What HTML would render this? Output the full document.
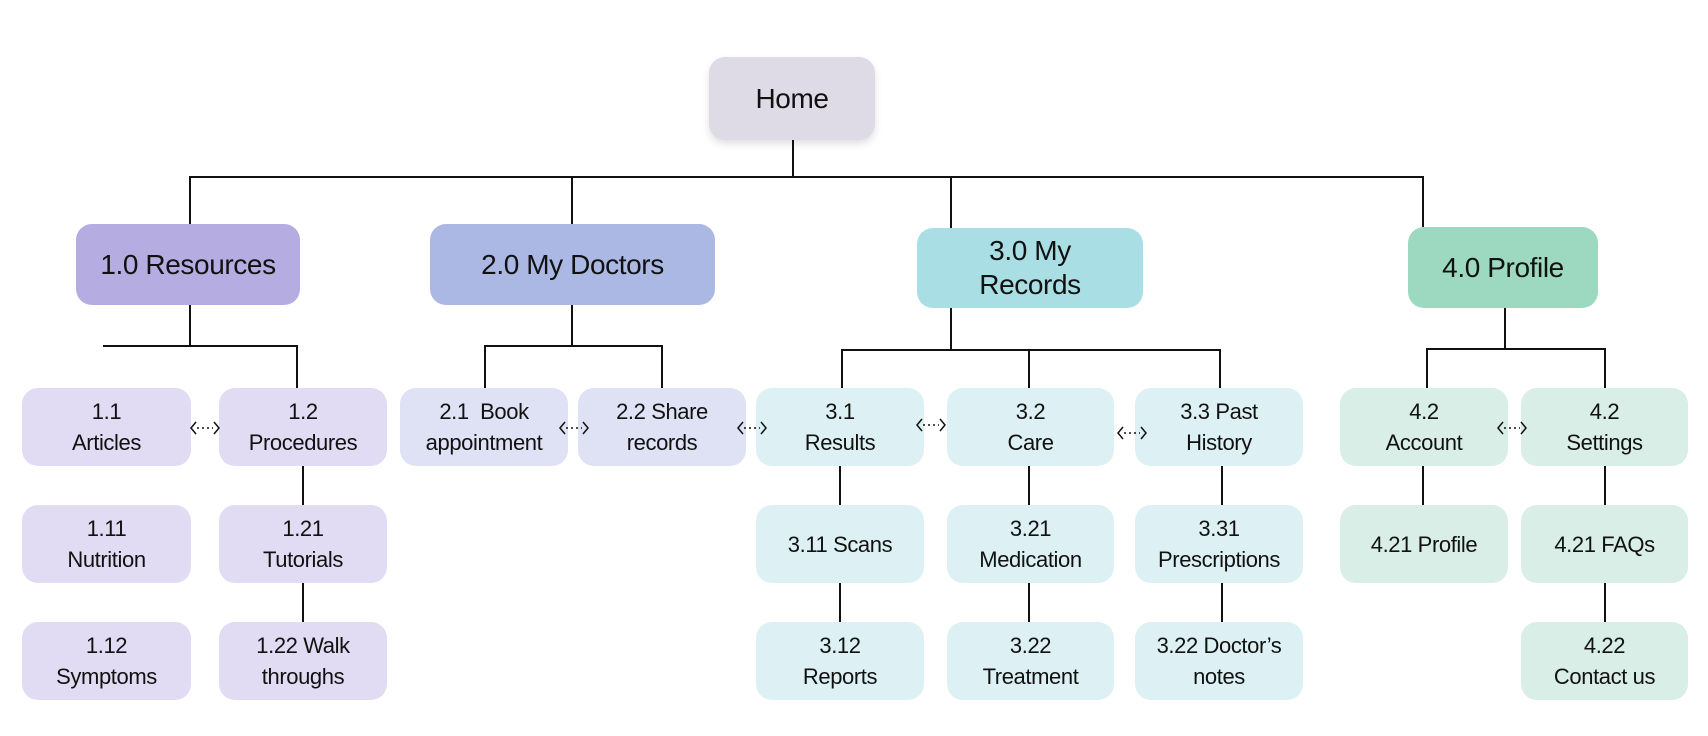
<!DOCTYPE html>
<html><head><meta charset="utf-8"><style>
body{margin:0;width:1708px;height:736px;background:#fff;position:relative;overflow:hidden;font-family:"Liberation Sans",sans-serif;}
.b{position:absolute;display:flex;align-items:center;justify-content:center;text-align:center;border-radius:16px;color:#111;font-size:22px;line-height:31px;letter-spacing:-0.4px}
.t{font-size:28px;line-height:34px}
svg{position:absolute;left:0;top:0}
</style></head><body>
<svg width="1708" height="736">
<g stroke="#111" stroke-width="2" fill="none">
<path d="M793 140V177M190 177H1423M190 176V224M572 176V224M951 176V228M1423 176V227"/>
<path d="M190 305V346M103 346H297V388"/>
<path d="M572 305V346M485 388V346H662V388"/>
<path d="M951 308V350M842 388V350H1220V388M1029 350V388"/>
<path d="M1505 308V349M1427 388V349H1605V388"/>
<path d="M303 466V505M303 583V622M840 466V505M840 583V622M1029 466V505M1029 583V622M1222 466V505M1222 583V622M1423 466V505M1605 466V505M1605 583V622"/>
</g>
</svg>
<div class="b t" style="left:709px;top:57px;width:166px;height:83px;background:#dedbe6;box-shadow:0 4px 8px rgba(0,0,0,0.12)">Home</div>
<div class="b t" style="left:76px;top:224px;width:224px;height:81px;background:#b5ace1">1.0 Resources</div>
<div class="b t" style="left:430px;top:224px;width:285px;height:81px;background:#abb8e3">2.0 My Doctors</div>
<div class="b t" style="left:917px;top:228px;width:226px;height:80px;background:#a9dfe4">3.0 My<br>Records</div>
<div class="b t" style="left:1408px;top:227px;width:190px;height:81px;background:#9dd9c1">4.0 Profile</div>

<div class="b" style="left:22px;top:388px;width:169px;height:78px;background:#e1dcf3">1.1<br>Articles</div>
<div class="b" style="left:219px;top:388px;width:168px;height:78px;background:#e1dcf3">1.2<br>Procedures</div>
<div class="b" style="left:22px;top:505px;width:169px;height:78px;background:#e1dcf3">1.11<br>Nutrition</div>
<div class="b" style="left:219px;top:505px;width:168px;height:78px;background:#e1dcf3">1.21<br>Tutorials</div>
<div class="b" style="left:22px;top:622px;width:169px;height:78px;background:#e1dcf3">1.12<br>Symptoms</div>
<div class="b" style="left:219px;top:622px;width:168px;height:78px;background:#e1dcf3">1.22 Walk<br>throughs</div>

<div class="b" style="left:400px;top:388px;width:168px;height:78px;background:#dfe1f4">2.1&nbsp; Book<br>appointment</div>
<div class="b" style="left:578px;top:388px;width:168px;height:78px;background:#dfe1f4">2.2 Share<br>records</div>

<div class="b" style="left:756px;top:388px;width:168px;height:78px;background:#ddf1f4">3.1<br>Results</div>
<div class="b" style="left:947px;top:388px;width:167px;height:78px;background:#ddf1f4">3.2<br>Care</div>
<div class="b" style="left:1135px;top:388px;width:168px;height:78px;background:#ddf1f4">3.3 Past<br>History</div>
<div class="b" style="left:756px;top:505px;width:168px;height:78px;background:#ddf1f4">3.11 Scans</div>
<div class="b" style="left:947px;top:505px;width:167px;height:78px;background:#ddf1f4">3.21<br>Medication</div>
<div class="b" style="left:1135px;top:505px;width:168px;height:78px;background:#ddf1f4">3.31<br>Prescriptions</div>
<div class="b" style="left:756px;top:622px;width:168px;height:78px;background:#ddf1f4">3.12<br>Reports</div>
<div class="b" style="left:947px;top:622px;width:167px;height:78px;background:#ddf1f4">3.22<br>Treatment</div>
<div class="b" style="left:1135px;top:622px;width:168px;height:78px;background:#ddf1f4">3.22 Doctor’s<br>notes</div>

<div class="b" style="left:1340px;top:388px;width:168px;height:78px;background:#d9eee6">4.2<br>Account</div>
<div class="b" style="left:1521px;top:388px;width:167px;height:78px;background:#d9eee6">4.2<br>Settings</div>
<div class="b" style="left:1340px;top:505px;width:168px;height:78px;background:#d9eee6">4.21 Profile</div>
<div class="b" style="left:1521px;top:505px;width:167px;height:78px;background:#d9eee6">4.21 FAQs</div>
<div class="b" style="left:1521px;top:622px;width:167px;height:78px;background:#d9eee6">4.22<br>Contact us</div>

<svg width="1708" height="736" style="z-index:5">
<g stroke="#111" stroke-width="1.5" fill="none">
<g transform="translate(205,428)"><path d="M-9 -6L-14 0L-9 6M9 -6L14 0L9 6"/><path d="M-8 0H8" stroke-dasharray="2 3"/></g>
<g transform="translate(574,428)"><path d="M-9 -6L-14 0L-9 6M9 -6L14 0L9 6"/><path d="M-8 0H8" stroke-dasharray="2 3"/></g>
<g transform="translate(752,428)"><path d="M-9 -6L-14 0L-9 6M9 -6L14 0L9 6"/><path d="M-8 0H8" stroke-dasharray="2 3"/></g>
<g transform="translate(931,425)"><path d="M-9 -6L-14 0L-9 6M9 -6L14 0L9 6"/><path d="M-8 0H8" stroke-dasharray="2 3"/></g>
<g transform="translate(1132,433)"><path d="M-9 -6L-14 0L-9 6M9 -6L14 0L9 6"/><path d="M-8 0H8" stroke-dasharray="2 3"/></g>
<g transform="translate(1512,428)"><path d="M-9 -6L-14 0L-9 6M9 -6L14 0L9 6"/><path d="M-8 0H8" stroke-dasharray="2 3"/></g>
</g>
</svg>
</body></html>
